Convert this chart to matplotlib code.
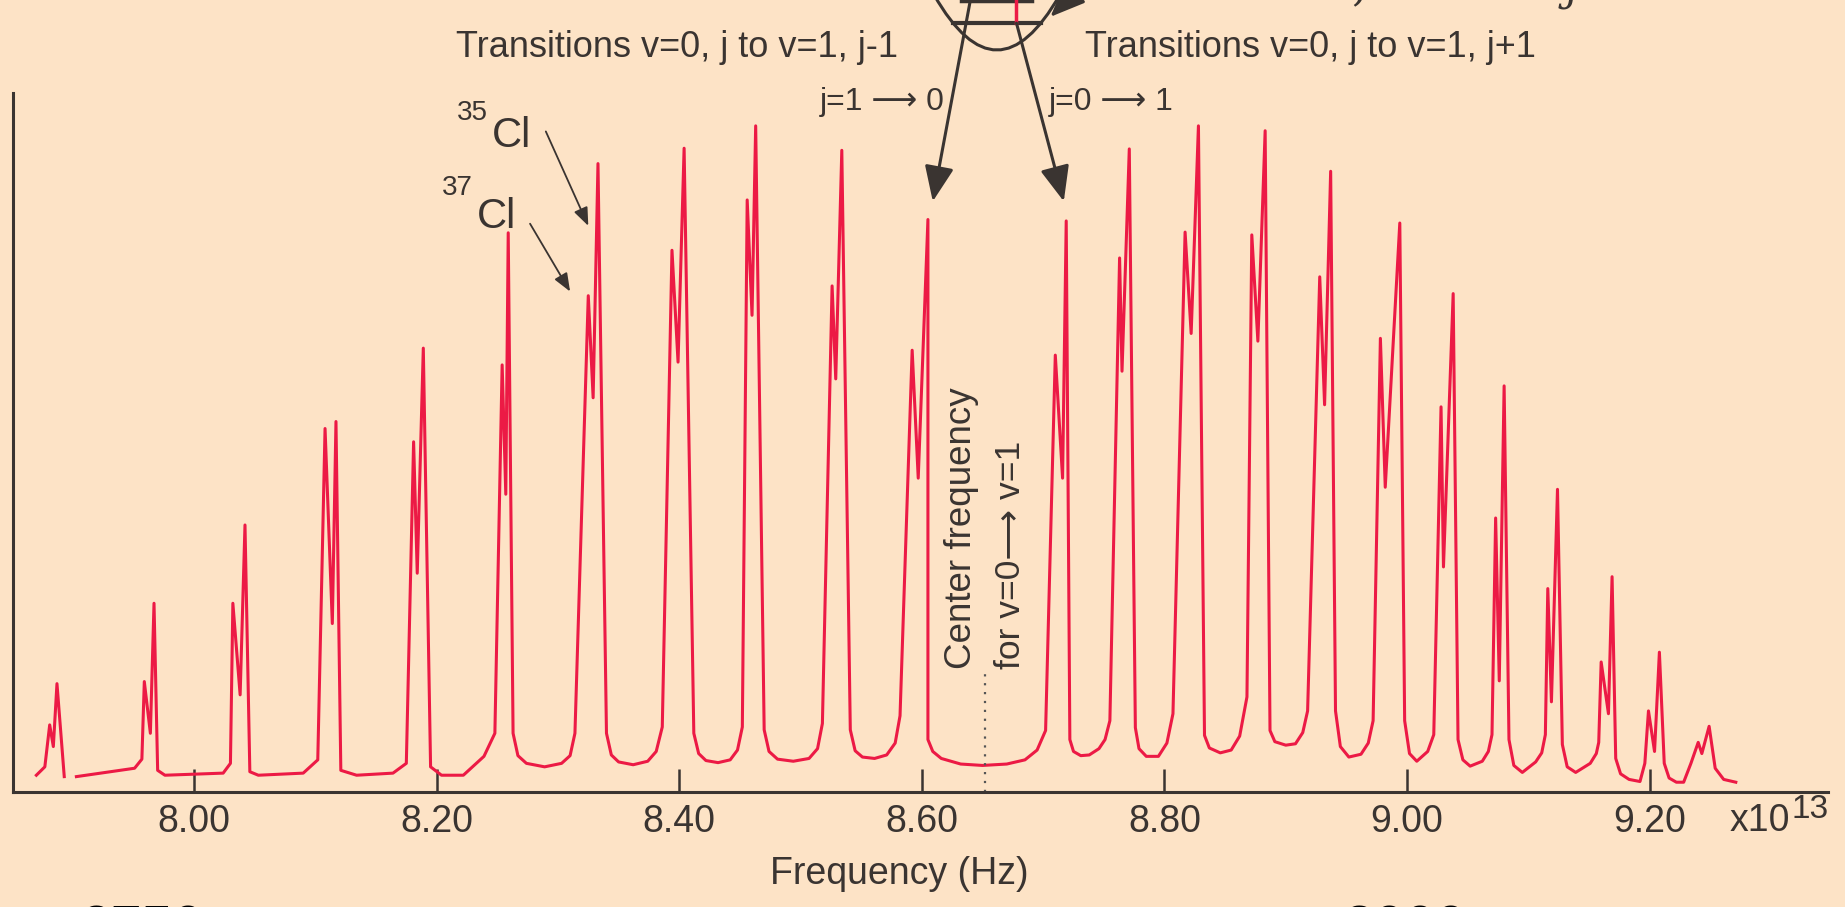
import matplotlib.pyplot as plt
from matplotlib.path import Path
from matplotlib.patches import PathPatch

# HCl absorption spectrum, frequency in units of 1e13 Hz, intensity 0-100
freq_a = [7.870, 7.877, 7.881, 7.884, 7.887, 7.893]
absorb_a = [2.4, 3.6, 9.6, 6.5, 15.5, 2.2]

freq_b = [7.903, 7.951, 7.957, 7.959, 7.964, 7.967, 7.970, 7.976,
          8.024, 8.030, 8.032, 8.038, 8.042, 8.046, 8.053,
          8.090, 8.102, 8.108, 8.114, 8.117, 8.121, 8.134,
          8.164, 8.175, 8.181, 8.184, 8.189, 8.195, 8.204,
          8.222, 8.239, 8.248, 8.254, 8.257, 8.259,
          8.263, 8.267, 8.274, 8.289, 8.303, 8.310, 8.314,
          8.325, 8.329, 8.333,
          8.340, 8.344, 8.350, 8.362, 8.374, 8.381, 8.386,
          8.394, 8.399, 8.404,
          8.412, 8.416, 8.422, 8.432, 8.442, 8.448, 8.452,
          8.456, 8.460, 8.463,
          8.470, 8.474, 8.481, 8.494, 8.507, 8.514, 8.518,
          8.526, 8.529, 8.534,
          8.541, 8.545, 8.551, 8.561, 8.571, 8.578, 8.582,
          8.592, 8.597, 8.605,
          8.605, 8.609, 8.616, 8.632, 8.650, 8.670, 8.685, 8.695, 8.702,
          8.710, 8.716, 8.719,
          8.722, 8.725, 8.731, 8.738, 8.746, 8.751, 8.755,
          8.763, 8.765, 8.771,
          8.776, 8.779, 8.785, 8.795, 8.802, 8.807,
          8.817, 8.822, 8.828,
          8.833, 8.837, 8.846, 8.855, 8.862, 8.868,
          8.872, 8.877, 8.883,
          8.887, 8.891, 8.900, 8.908, 8.914, 8.918,
          8.928, 8.932, 8.937,
          8.941, 8.945, 8.952, 8.962, 8.968, 8.972,
          8.978, 8.982, 8.994,
          8.998, 9.002, 9.008, 9.017, 9.022,
          9.028, 9.030, 9.038,
          9.042, 9.046, 9.052, 9.062, 9.067, 9.070,
          9.073, 9.076, 9.080,
          9.084, 9.088, 9.095, 9.106, 9.111, 9.114,
          9.116, 9.119, 9.124,
          9.128, 9.132, 9.139, 9.151, 9.156, 9.158,
          9.160, 9.166, 9.169,
          9.172, 9.176, 9.183, 9.192, 9.196,
          9.199, 9.204, 9.208,
          9.212, 9.216, 9.222, 9.228, 9.234,
          9.240, 9.243, 9.249, 9.254, 9.261, 9.271]
absorb_b = [2.2, 3.4, 4.7, 15.8, 8.4, 27.0, 3.1, 2.4,
            2.7, 4.1, 27.0, 13.9, 38.2, 2.9, 2.4,
            2.7, 4.6, 52.0, 24.1, 53.0, 3.1, 2.4,
            2.7, 4.1, 50.1, 31.3, 63.5, 3.6, 2.4,
            2.4, 5.1, 8.4, 61.1, 42.6, 80.0,
            8.4, 5.2, 4.1, 3.6, 4.1, 5.2, 8.4,
            71.0, 56.4, 89.9,
            8.4, 5.3, 4.3, 3.9, 4.4, 5.8, 9.3,
            77.5, 61.5, 92.1,
            8.4, 5.5, 4.5, 4.2, 4.6, 6.0, 9.3,
            84.7, 68.2, 95.3,
            8.9, 5.8, 4.7, 4.4, 4.8, 6.2, 9.8,
            72.4, 59.1, 91.8,
            8.9, 5.9, 5.0, 4.8, 5.3, 7.0, 10.9,
            63.2, 44.9, 81.9,
            7.5, 5.8, 4.8, 4.0, 3.8, 4.0, 4.6, 6.0, 8.8,
            62.5, 44.9, 81.7,
            7.5, 5.8, 5.2, 5.3, 6.2, 7.5, 10.2,
            76.4, 60.2, 92.0,
            9.2, 6.2, 5.1, 5.1, 7.0, 11.2,
            80.1, 65.6, 95.3,
            8.1, 6.3, 5.6, 6.0, 8.0, 13.6,
            79.7, 64.5, 94.6,
            8.8, 7.2, 6.7, 6.9, 8.5, 11.6,
            73.7, 55.4, 88.8,
            11.6, 6.5, 5.0, 5.4, 7.0, 10.2,
            64.9, 43.6, 81.4,
            10.2, 5.5, 4.4, 5.8, 8.2,
            55.1, 32.2, 71.3,
            7.5, 4.6, 3.7, 4.4, 5.8, 8.2,
            39.2, 15.9, 58.1,
            7.5, 3.8, 2.8, 4.3, 5.6, 8.2,
            29.1, 12.9, 43.3,
            6.8, 3.6, 2.8, 4.1, 5.5, 7.1,
            18.6, 11.2, 30.8,
            4.8, 2.6, 1.8, 1.5, 4.1,
            11.6, 5.8, 20.0,
            4.1, 2.0, 1.4, 1.4, 4.1,
            7.1, 5.5, 9.4, 3.4, 1.8, 1.4]

tick_pos = [8.00, 8.20, 8.40, 8.60, 8.80, 9.00, 9.20]
tick_lab = ["8.00", "8.20", "8.40", "8.60", "8.80", "9.00", "9.20"]
center_freq = 8.652

#------------------------------------------------
bg = "#FDE3C6"
red = "#EC1A45"
ink = "#3a3431"
W, H = 1845, 907
plt.rcParams['font.family'] = ['Liberation Sans', 'DejaVu Sans']

fig = plt.figure(figsize=(W/100, H/100), dpi=100, facecolor=bg)
ax = fig.add_axes([13.3/W, (H-792)/H, (1828-13.3)/W, 699/H])
ax.set_facecolor(bg)
ax.set_xlim(7.851, 9.347)
ax.set_ylim(0, 100)

ax.plot(freq_a, absorb_a, color=red, lw=2.2, solid_joinstyle='round')
ax.plot(freq_b, absorb_b, color=red, lw=2.2, solid_joinstyle='round')

for s in ['top', 'right']:
    ax.spines[s].set_visible(False)
for s in ['left', 'bottom']:
    ax.spines[s].set_color(ink)
    ax.spines[s].set_linewidth(2.2)
ax.set_yticks([])
ax.set_xticks(tick_pos, tick_lab)
ax.tick_params(axis='x', direction='in', length=16.5, width=1.8, color=ink,
               labelsize=27, labelcolor=ink, pad=9)
ax.set_xlabel("Frequency (Hz)", fontsize=27, color=ink)
ax.xaxis.set_label_coords(0.488, -0.091)

def ftext(x, y, s, **kw):
    kw.setdefault('color', ink)
    fig.text(x/W, 1 - y/H, s, **kw)

ftext(1730, 831, "x10", fontsize=27, va='baseline')
ftext(1792, 818, "13", fontsize=24, va='baseline')

# centre of band
ax.axvline(center_freq, ymin=0, ymax=0.176, color='#555', lw=1.6, ls=(0, (1, 3)))
ftext(961.7, 669, "Center frequency", rotation=90, ha='center', va='bottom', fontsize=26.5)
ftext(1010, 669, "for v=0\u27f6 v=1", rotation=90, ha='center', va='bottom', fontsize=25.5)

# isotopes
ftext(457, 120, "35", fontsize=20, va='baseline')
ftext(492, 147, "Cl", fontsize=30, va='baseline')
ftext(442, 195, "37", fontsize=20, va='baseline')
ftext(477, 228, "Cl", fontsize=30, va='baseline')
small = dict(arrowstyle='-|>,head_length=0.5,head_width=0.2', color=ink, lw=1.3,
             mutation_scale=22, shrinkA=0, shrinkB=0)
ax.annotate('', xy=(8.325, 81.0), xytext=(8.290, 94.5), arrowprops=small, annotation_clip=False)
ax.annotate('', xy=(8.310, 71.6), xytext=(8.277, 81.3), arrowprops=small, annotation_clip=False)

# transitions
ftext(456, 57, "Transitions v=0, j to v=1, j-1", fontsize=26, va='baseline')
ftext(1085, 57, "Transitions v=0, j to v=1, j+1", fontsize=26, va='baseline')
ftext(945, 110, "j=1 \u27f6 0", fontsize=23, va='baseline', ha='right')
ftext(1049, 110, "j=0 \u27f6 1", fontsize=23, va='baseline', ha='left')

big = dict(arrowstyle='-|>,head_length=0.6,head_width=0.25', color=ink, lw=2.2,
           mutation_scale=36, shrinkA=0, shrinkB=0)
ax.annotate('', xy=(8.609, 84.5), xytext=(8.640, 113.3), arrowprops=big, annotation_clip=False)
ax.annotate('', xy=(8.717, 84.5), xytext=(8.678, 110.0), arrowprops=big, annotation_clip=False)
ax.annotate('', xy=(8.706, 110.9), xytext=(8.724, 114.0), arrowprops=big, annotation_clip=False)

# potential well
well = Path([(8.6102, 114.0), (8.6619, 98.3), (8.7136, 114.0)],
            [Path.MOVETO, Path.CURVE3, Path.CURVE3])
ax.add_patch(PathPatch(well, fc='none', ec=ink, lw=2.2, clip_on=False))
ax.plot([8.626, 8.698], [110.0, 110.0], color=ink, lw=3, clip_on=False)
ax.plot([8.632, 8.691], [113.1, 113.1], color=ink, lw=2.5, clip_on=False)
ax.plot([8.678, 8.678], [110.0, 113.5], color=red, lw=2.5, clip_on=False)

# cut-off text at the borders
ftext(1352, 0, ",", fontsize=30, family='DejaVu Serif', style='italic', va='baseline')
ftext(1566, 0, "j", fontsize=30, family='DejaVu Serif', style='italic', va='baseline')
ftext(80, 944, "2750", fontsize=40, va='baseline', color='black')
ftext(1344, 944, "3000", fontsize=40, va='baseline', color='black')

fig.savefig("out.png", dpi=100, facecolor=bg)
